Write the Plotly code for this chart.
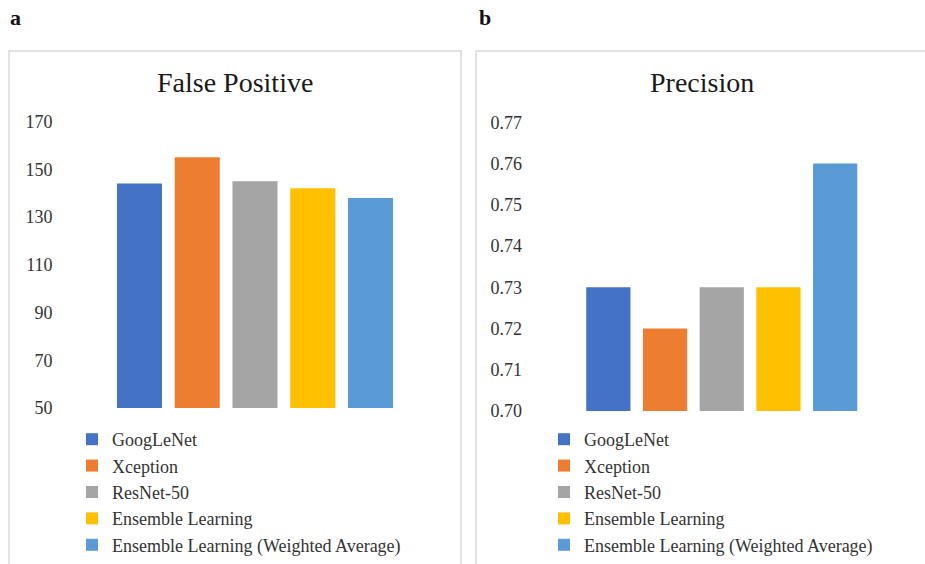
import plotly.graph_objects as go

# Model names, metric values and bar colours
models = ["GoogLeNet", "Xception", "ResNet-50", "Ensemble Learning",
          "Ensemble Learning (Weighted Average)"]
false_positive = [144, 155, 145, 142, 138]
precision = [0.73, 0.72, 0.73, 0.73, 0.76]
colors = ["#4472C4", "#ED7D31", "#A5A5A5", "#FFC000", "#5B9BD5"]

fp_ticks = [50, 70, 90, 110, 130, 150, 170]
prec_ticks = [0.70, 0.71, 0.72, 0.73, 0.74, 0.75, 0.76, 0.77]

W, H = 925, 564
FONT = "Liberation Serif"
TXT = "#333333"


def px_x(v):
    return v / W


def px_y(v):
    return (H - v) / H


fig = go.Figure()

for name, val, col in zip(models, false_positive, colors):
    fig.add_trace(go.Bar(x=[name], y=[val], name=name, marker_color=col,
                         marker_line_width=0, xaxis="x", yaxis="y",
                         legend="legend", legendgroup="a_" + name))

for name, val, col in zip(models, precision, colors):
    fig.add_trace(go.Bar(x=[name], y=[val], name=name, marker_color=col,
                         marker_line_width=0, xaxis="x2", yaxis="y2",
                         legend="legend2", legendgroup="b_" + name))

common_y = dict(showgrid=False, zeroline=False, showline=False, ticks="",
                tickfont=dict(family=FONT, size=18, color=TXT),
                ticklabelstandoff=57)
common_x = dict(showgrid=False, zeroline=False, showline=False, ticks="",
                showticklabels=False, categoryorder="array",
                categoryarray=models)

legend_style = dict(font=dict(family=FONT, size=18, color=TXT),
                    bgcolor="rgba(0,0,0,0)", xanchor="left", yanchor="top",
                    tracegroupgap=0, orientation="v")

fig.update_layout(
    width=W, height=H,
    margin=dict(l=0, r=0, t=0, b=0, autoexpand=False),
    paper_bgcolor="white", plot_bgcolor="white",
    barmode="relative", bargap=0.22,
    xaxis=dict(domain=[px_x(110.6), px_x(399.4)], anchor="y", **common_x),
    yaxis=dict(domain=[px_y(408), px_y(121.5)], anchor="x", range=[50, 170],
               tickvals=fp_ticks, **common_y),
    xaxis2=dict(domain=[px_x(580), px_x(863.5)], anchor="y2", **common_x),
    yaxis2=dict(domain=[px_y(411), px_y(122.2)], anchor="x2", range=[0.70, 0.77],
                tickvals=prec_ticks, tickformat=".2f", **common_y),
    legend=dict(x=px_x(72), y=px_y(421), **legend_style),
    legend2=dict(x=px_x(544), y=px_y(421), **legend_style),
    showlegend=True,
)

# Panel frames
for x0, x1 in [(9, 461), (476, 940)]:
    fig.add_shape(type="rect", xref="paper", yref="paper",
                  x0=px_x(x0), x1=px_x(x1), y0=-0.05, y1=px_y(51),
                  line=dict(color="#D9D9D9", width=1.5), fillcolor="rgba(0,0,0,0)",
                  layer="below")

# Chart titles and panel letters
for text, cx in [("False Positive", 235), ("Precision", 701.5)]:
    fig.add_annotation(text=text, xref="paper", yref="paper", x=px_x(cx), y=px_y(82),
                       xanchor="center", yanchor="middle", showarrow=False,
                       font=dict(family=FONT, size=28, color="#1a1a1a"))

for text, lx in [("a", 8), ("b", 477)]:
    fig.add_annotation(text="<b>%s</b>" % text, xref="paper", yref="paper",
                       x=px_x(lx), y=px_y(18), xanchor="left", yanchor="middle",
                       showarrow=False, font=dict(family=FONT, size=22, color="#111111"))

fig.write_html("out.html")
